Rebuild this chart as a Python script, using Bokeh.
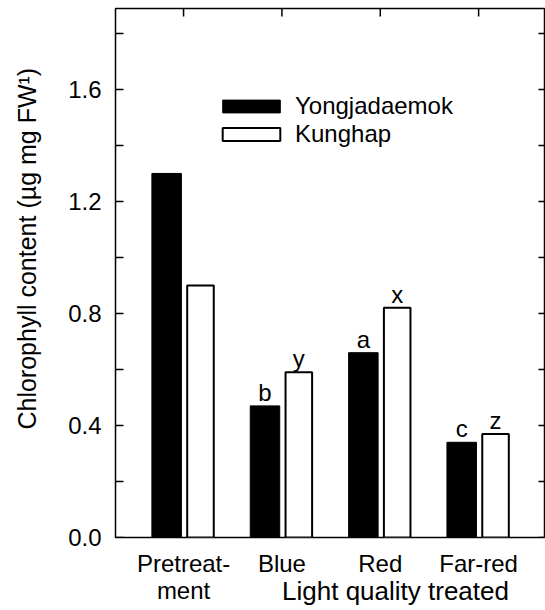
from bokeh.plotting import figure
from bokeh.models import (Range1d, FixedTicker, Legend, LegendItem,
                          ColumnDataSource, NumeralTickFormatter)
from bokeh.core.properties import value
from bokeh.embed import file_html
from bokeh.resources import INLINE

# ---- data ----
categories = ["Pretreat-\nment", "Blue", "Red", "Far-red"]
yongjadaemok = [1.30, 0.47, 0.66, 0.34]
kunghap = [0.90, 0.59, 0.82, 0.37]
sig_yongjadaemok = ["", "b", "a", "c"]
sig_kunghap = ["", "y", "x", "z"]
y_major = [0.0, 0.4, 0.8, 1.2, 1.6]
y_minor = [0.2, 0.6, 1.0, 1.4, 1.8]
series_names = ["Yongjadaemok", "Kunghap"]
x_title = "Light quality treated"
y_title = "Chlorophyll content (\u00b5g mg FW\u00b9)"

FONT = "Liberation Sans"
OFFSET = 0.172
X0, X1, Y0, Y1 = -0.692, 3.68, 0.0, 1.889
x_pos = list(range(len(categories)))
x_y = [i - OFFSET for i in x_pos]
x_k = [i + OFFSET for i in x_pos]

p = figure(width=545, height=610, output_backend="svg", toolbar_location=None,
           x_range=Range1d(X0, X1), y_range=Range1d(Y0, Y1),
           min_border_left=115, min_border_right=0, min_border_top=8,
           min_border_bottom=73)
p.xgrid.grid_line_color = None
p.ygrid.grid_line_color = None
p.outline_line_color = "black"
p.outline_line_width = 1.5
p.background_fill_color = "white"
p.border_fill_color = "white"

src_y = ColumnDataSource(dict(x=x_y, top=yongjadaemok))
src_k = ColumnDataSource(dict(x=x_k, top=kunghap))
r1 = p.vbar(x="x", top="top", width=0.3, source=src_y,
            fill_color="black", line_color="black", line_width=1)
r2 = p.vbar(x="x", top="top", width=0.27, source=src_k,
            fill_color="white", line_color="black", line_width=2)

# significance letters
lx, ly, lt = [], [], []
for xs, vals, sig in ((x_y, yongjadaemok, sig_yongjadaemok), (x_k, kunghap, sig_kunghap)):
    for xx, vv, ss in zip(xs, vals, sig):
        if ss:
            lx.append(xx); ly.append(vv); lt.append(ss)
p.text(x=lx, y=ly, text=lt, text_align="center", text_baseline="bottom",
       y_offset=0, text_font=value(FONT), text_font_size="24px", text_color="black")

# inward tick marks on all four sides (dash markers centred on the frame edge;
# the half outside the frame is clipped away)
y_all = y_major + y_minor
p.scatter(x=[X0] * len(y_all), y=y_all, marker="dash", size=16,
          line_color="black", line_width=1.5)
p.scatter(x=[X1] * len(y_all), y=y_all, marker="dash", size=14,
          line_color="black", line_width=1.5)
p.scatter(x=x_pos, y=[Y1] * len(x_pos), marker="dash", size=16, angle=1.5708,
          line_color="black", line_width=1.5)

# left axis: labels only
yax = p.yaxis[0]
yax.ticker = FixedTicker(ticks=y_major, minor_ticks=y_minor)
yax.formatter = NumeralTickFormatter(format="0.0")
yax.major_tick_in = 0
yax.major_tick_out = 0
yax.minor_tick_in = 0
yax.minor_tick_out = 0
yax.axis_line_color = None
yax.major_label_text_font = FONT
yax.major_label_text_font_size = "24px"
yax.major_label_text_color = "black"
yax.major_label_standoff = 14
# leading no-break spaces lift the centred title slightly, as in the original
yax.axis_label = "\u00a0" * 7 + y_title
yax.axis_label_text_font = FONT
yax.axis_label_text_font_size = "25px"
yax.axis_label_text_font_style = "normal"
yax.axis_label_text_color = "black"
yax.axis_label_standoff = 24

# bottom axis: category labels, title on the line of "ment"
xax = p.xaxis[0]
xax.ticker = FixedTicker(ticks=x_pos)
xax.major_label_overrides = {i: c for i, c in zip(x_pos, categories)}
xax.major_tick_in = 0
xax.major_tick_out = 0
xax.minor_tick_in = 0
xax.minor_tick_out = 0
xax.axis_line_color = None
xax.major_label_text_font = FONT
xax.major_label_text_font_size = "24px"
xax.major_label_text_color = "black"
xax.major_label_text_line_height = 1.0
xax.major_label_standoff = 12
# leading no-break spaces push the centred title to the right, as in the original
xax.axis_label = "\u00a0" * 18 + x_title
xax.axis_label_text_font = FONT
xax.axis_label_text_font_size = "26px"
xax.axis_label_text_font_style = "normal"
xax.axis_label_text_color = "black"
xax.axis_label_standoff = -31
xax.axis_label_align = "center"

# legend
legend = Legend(items=[LegendItem(label=series_names[0], renderers=[r1]),
                       LegendItem(label=series_names[1], renderers=[r2])],
                location=(100, 389), glyph_width=72, glyph_height=16,
                label_standoff=8, padding=0, margin=0, spacing=0,
                border_line_color=None, background_fill_alpha=0,
                label_text_font=FONT, label_text_font_size="24px",
                label_text_color="black", label_height=28)
p.add_layout(legend)

open("out.html", "w").write(file_html(p, INLINE))
